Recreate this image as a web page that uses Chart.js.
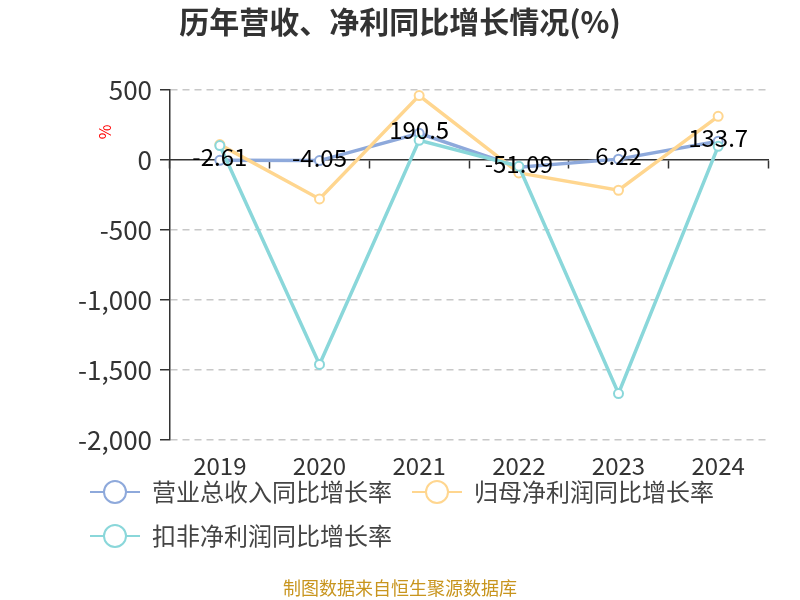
<!DOCTYPE html>
<html>
<head>
<meta charset="utf-8">
<script src="https://cdn.jsdelivr.net/npm/chart.js@4/dist/chart.umd.min.js"></script>
<style>
  html, body { margin: 0; padding: 0; background: #fff; }
  #wrap { width: 800px; height: 600px; position: relative; }
</style>
</head>
<body>
<div id="wrap"><canvas id="c" width="800" height="600"></canvas></div>
<script>
const categories = ['2019', '2020', '2021', '2022', '2023', '2024'];
const revenueGrowth = [-2.61, -4.05, 190.5, -51.09, 6.22, 133.7];
const netProfitGrowth = [110, -278, 460, -92, -216, 312];
const deductedProfitGrowth = [103, -1460, 141, -45, -1668, 98];
const seriesNames = ['营业总收入同比增长率', '归母净利润同比增长率', '扣非净利润同比增长率'];
const yTicks = [500, 0, -500, -1000, -1500, -2000];
const titleText = '历年营收、净利同比增长情况(%)';
const footerText = '制图数据来自恒生聚源数据库';

const colors = ['#8EA9DB', '#FFD68F', '#8AD7DA'];
const FONT = '"Noto Sans CJK SC", "Noto Sans", sans-serif';
Chart.defaults.font.family = FONT;
Chart.defaults.color = '#333';

function legendIcon(color) {
  const cv = document.createElement('canvas');
  cv.width = 50; cv.height = 26;
  const g = cv.getContext('2d');
  g.strokeStyle = color; g.lineWidth = 2;
  g.beginPath(); g.moveTo(0, 13); g.lineTo(50, 13); g.stroke();
  g.fillStyle = '#fff';
  g.beginPath(); g.arc(25, 13, 11, 0, Math.PI * 2); g.fill(); g.stroke();
  return cv;
}
const icons = colors.map(legendIcon);

const textPlugin = {
  id: 'textPlugin',
  afterDatasetsDraw(chart) {
    const ctx = chart.ctx;
    const meta = chart.getDatasetMeta(0);
    ctx.save();
    ctx.font = '24px ' + FONT;
    ctx.fillStyle = '#000';
    ctx.textAlign = 'center';
    ctx.textBaseline = 'middle';
    meta.data.forEach((pt, i) => {
      ctx.fillText(String(revenueGrowth[i]), pt.x, pt.y - 3);
    });
    ctx.restore();
  },
  afterDraw(chart) {
    const ctx = chart.ctx;
    const a = chart.chartArea;
    const W = chart.width, H = chart.height;
    ctx.save();
    // title
    ctx.font = 'bold 30px ' + FONT;
    ctx.fillStyle = '#333';
    ctx.textAlign = 'center';
    ctx.textBaseline = 'middle';
    ctx.fillText(titleText, W / 2, 22);
    // footer
    ctx.font = '18px ' + FONT;
    ctx.fillStyle = '#C8951E';
    ctx.fillText(footerText, W / 2, H - 12);
    // axis unit
    ctx.translate(a.left - 65, a.top + 42);
    ctx.rotate(-Math.PI / 2);
    ctx.font = '16px ' + FONT;
    ctx.fillStyle = '#FF0000';
    ctx.fillText('%', 0, 0);
    ctx.restore();
  }
};

const mk = (i, data, order) => ({
  label: seriesNames[i],
  data: data,
  borderColor: colors[i],
  backgroundColor: '#fff',
  borderWidth: 3.5,
  pointRadius: 4.5,
  pointBorderWidth: 2,
  pointBackgroundColor: '#fff',
  pointBorderColor: colors[i],
  tension: 0,
  order: order
});

new Chart(document.getElementById('c'), {
  type: 'line',
  data: {
    labels: categories,
    datasets: [
      mk(0, revenueGrowth, 3),
      mk(1, netProfitGrowth, 2),
      mk(2, deductedProfitGrowth, 1)
    ]
  },
  plugins: [textPlugin],
  options: {
    responsive: false,
    animation: false,
    layout: { padding: { left: 70, right: 32, top: 90, bottom: 42 } },
    scales: {
      x: {
        type: 'category',
        offset: true,
        position: { y: -2000 },
        grid: { display: false, drawTicks: false },
        border: { display: false },
        ticks: { font: { size: 24 }, color: '#333', padding: 11 }
      },
      x2: {
        type: 'category',
        labels: categories,
        offset: true,
        position: { y: 0 },
        grid: { display: true, drawOnChartArea: false, drawTicks: true, tickLength: 8, tickColor: '#333', tickWidth: 1.5, offset: true },
        border: { display: true, color: '#333', width: 1.5 },
        ticks: { display: false }
      },
      y: {
        min: -2000,
        max: 500,
        afterBuildTicks(s) { s.ticks = yTicks.map(v => ({ value: v })); },
        ticks: {
          font: { size: 26 },
          color: '#333',
          padding: 8,
          callback: v => Number(v).toLocaleString('en-US')
        },
        grid: {
          color: ctx => (ctx.tick && ctx.tick.value === 0) ? 'rgba(0,0,0,0)' : '#C8C8C8',
          lineWidth: 1.5,
          tickColor: '#333',
          tickLength: 10,
          tickWidth: 1.5
        },
        border: { display: true, color: '#333', width: 1.5, dash: [7, 5] },
        afterFit(s) { s.width = 100; }
      }
    },
    plugins: {
      title: { display: false },
      subtitle: { display: false },
      legend: {
        display: true,
        position: 'bottom',
        align: 'start',
        title: { display: true, text: ' ', font: { size: 10 }, padding: { top: 4, bottom: 4 } },
        labels: {
          usePointStyle: true,
          pointStyleWidth: 50,
          boxHeight: 24,
          padding: 20,
          font: { size: 24 },
          color: '#444',
          sort: (a, b) => a.datasetIndex - b.datasetIndex,
          generateLabels(chart) {
            const items = Chart.defaults.plugins.legend.labels.generateLabels(chart);
            items.forEach(it => { it.pointStyle = icons[it.datasetIndex]; });
            return items;
          }
        }
      },
      tooltip: { enabled: false }
    }
  }
});
</script>
</body>
</html>
